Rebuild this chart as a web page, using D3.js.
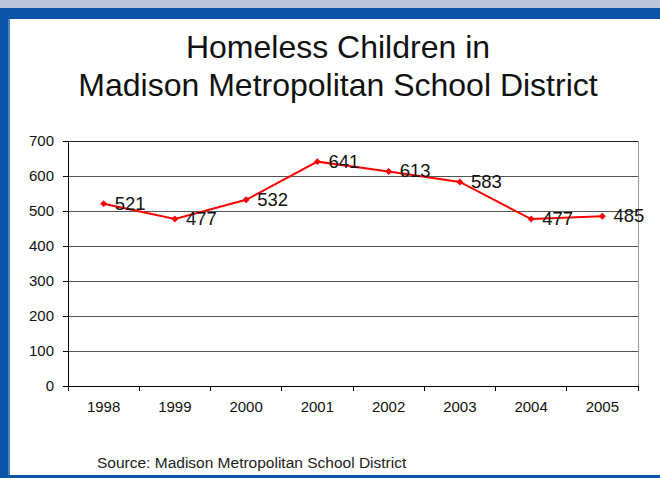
<!DOCTYPE html>
<html><head><meta charset="utf-8">
<script src="https://cdn.jsdelivr.net/npm/d3@7"></script>
<style>html,body{margin:0;padding:0;background:#fff;}svg{display:block;font-family:"Liberation Sans",Arial,sans-serif;}</style>
</head><body>
<script>
const years = ["1998","1999","2000","2001","2002","2003","2004","2005"];
const values = [521, 477, 532, 641, 613, 583, 477, 485];
const yTicks = [0,100,200,300,400,500,600,700];
const titleLines = ["Homeless Children in","Madison Metropolitan School District"];
const sourceText = "Source: Madison Metropolitan School District";

const W = 660, H = 478;
const svg = d3.select("body").append("svg").attr("width", W).attr("height", H);

// frame
svg.append("rect").attr("x",0).attr("y",0).attr("width",W).attr("height",H).attr("fill","#0a55a8");
svg.append("rect").attr("x",0).attr("y",0).attr("width",W).attr("height",8).attr("fill","#b9c6dc");
svg.append("rect").attr("x",10).attr("y",19).attr("width",W-10).attr("height",456).attr("fill","#fff");
svg.append("rect").attr("x",8).attr("y",19).attr("width",2).attr("height",456).attr("fill","#4a86c8");

// title
svg.append("g").selectAll("text").data(titleLines).join("text")
  .attr("x",338).attr("y",(d,i)=>58+i*38).attr("text-anchor","middle")
  .attr("font-size",32).attr("fill","#111").text(d=>d);

const x0 = 68, x1 = 638, yTop = 141, yBot = 386;
const x = d3.scaleBand().domain(years).range([x0,x1]);
const y = d3.scaleLinear().domain([0,700]).range([yBot,yTop]);

// gridlines
svg.append("g").selectAll("line").data(yTicks.filter(t=>t>0)).join("line")
  .attr("x1",x0).attr("x2",x1).attr("y1",d=>y(d)).attr("y2",d=>y(d))
  .attr("stroke",d=>d===700?"#222":"#555").attr("stroke-width",1).attr("shape-rendering","crispEdges");
// right border
svg.append("line").attr("x1",x1).attr("x2",x1).attr("y1",yTop).attr("y2",yBot)
  .attr("stroke","#999").attr("shape-rendering","crispEdges");

// y axis
const yAxis = d3.axisLeft(y).tickValues(yTicks).tickSize(5).tickPadding(9).tickFormat(d3.format("d"));
const gy = svg.append("g").attr("transform",`translate(${x0},0)`).call(yAxis);
gy.select(".domain").attr("stroke","#000").attr("shape-rendering","crispEdges");
gy.selectAll(".tick line").attr("stroke","#000").attr("shape-rendering","crispEdges");
gy.selectAll("text").attr("font-size",15).attr("font-family","Liberation Sans, Arial, sans-serif").attr("fill","#111");

// x axis
const xAxis = d3.axisBottom(x).tickSize(0).tickPadding(15);
const gx = svg.append("g").attr("transform",`translate(0,${yBot})`).call(xAxis);
gx.select(".domain").attr("stroke","#000").attr("shape-rendering","crispEdges");
gx.selectAll("text").attr("font-size",15).attr("font-family","Liberation Sans, Arial, sans-serif").attr("fill","#111");
// category boundary ticks
const bounds = years.map(d=>x(d)).concat([x1]);
svg.append("g").selectAll("line").data(bounds).join("line")
  .attr("x1",d=>d).attr("x2",d=>d).attr("y1",yBot).attr("y2",yBot+5)
  .attr("stroke","#000").attr("shape-rendering","crispEdges");

// line
const cx = d => x(d) + x.bandwidth()/2;
const line = d3.line().x((d,i)=>cx(years[i])).y(d=>y(d));
svg.append("path").datum(values).attr("d",line).attr("fill","none")
  .attr("stroke","#ff0000").attr("stroke-width",2);
svg.append("g").selectAll("path").data(values).join("path")
  .attr("d", d3.symbol().type(d3.symbolSquare).size(24))
  .attr("transform",(d,i)=>`translate(${cx(years[i])},${y(d)}) rotate(45)`)
  .attr("fill","#ff0000");

// labels
svg.append("g").selectAll("text").data(values).join("text")
  .attr("x",(d,i)=>cx(years[i])+11).attr("y",d=>y(d)+6)
  .attr("font-size",18.5).attr("fill","#111").text(d=>d);

// source
svg.append("text").attr("x",97).attr("y",468).attr("font-size",15.5).attr("fill","#222").text(sourceText);
</script>
</body></html>
